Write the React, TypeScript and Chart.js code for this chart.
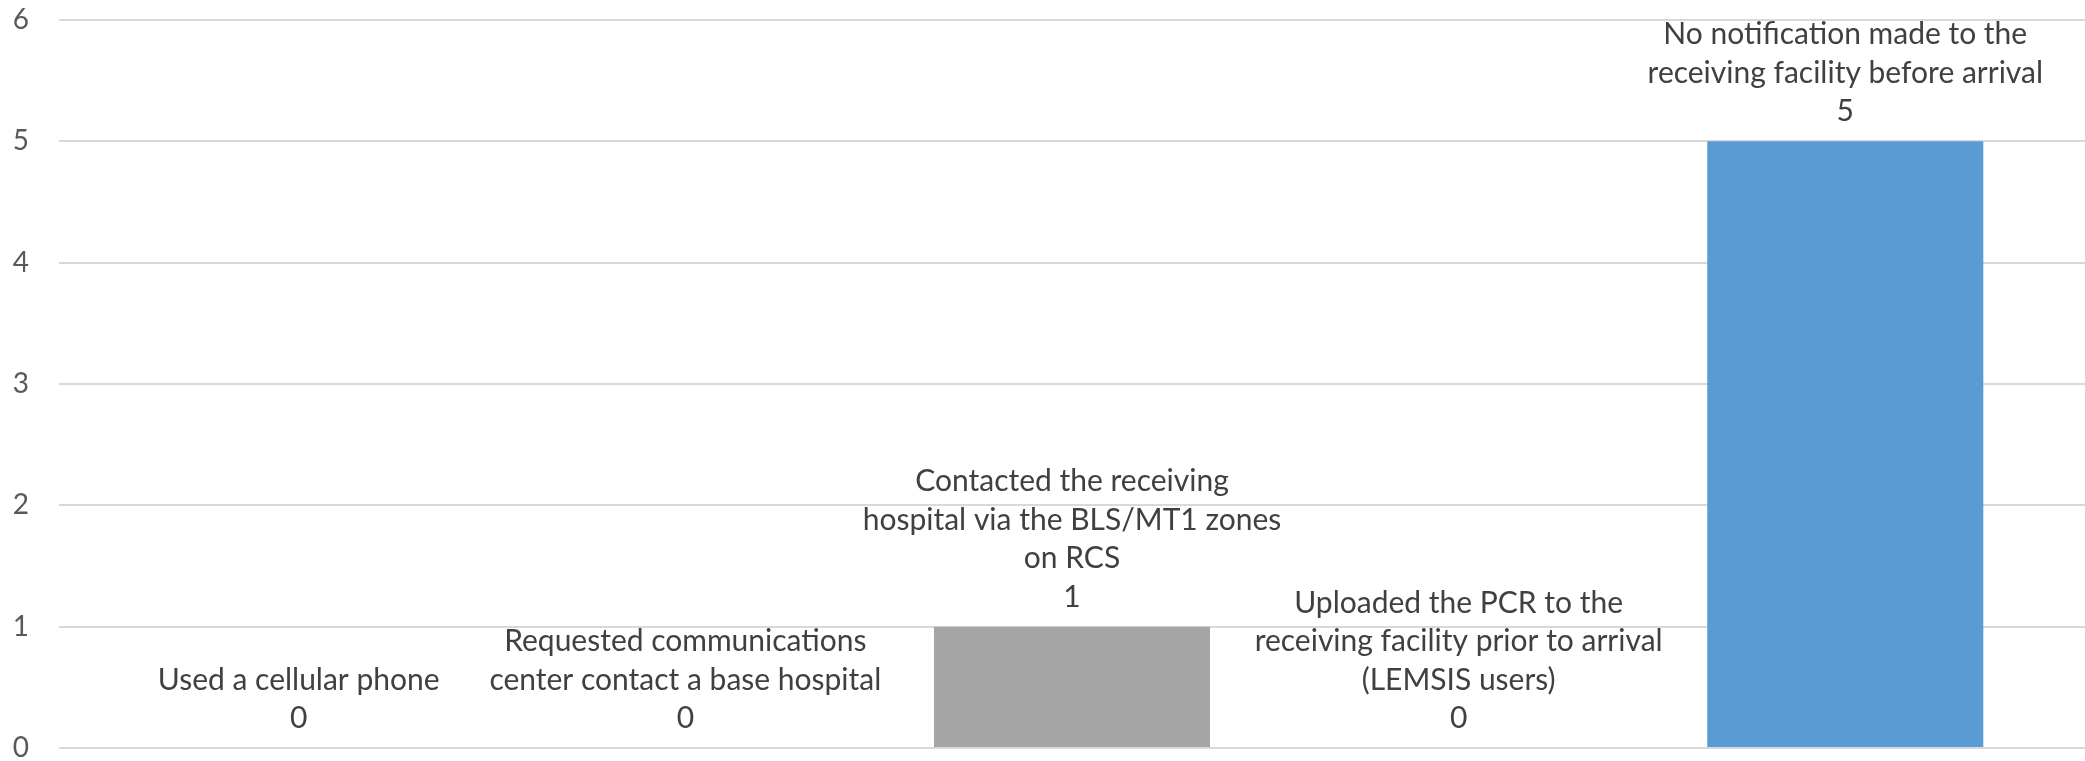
import { useEffect, useRef } from "react";
import { Chart, registerables } from "chart.js";

Chart.register(...registerables);

// ---- data ----
const categories: string[][] = [
  ["Used a cellular phone"],
  ["Requested communications", "center contact a base hospital"],
  ["Contacted the receiving", "hospital via the BLS/MT1 zones", "on RCS"],
  ["Uploaded the PCR to the", "receiving facility prior to arrival", "(LEMSIS users)"],
  ["No notification made to the", "receiving facility before arrival"],
];
const values: number[] = [0, 0, 1, 0, 5];
const barColors: string[] = ["#5b9bd5", "#ed7d31", "#a5a5a5", "#ffc000", "#5b9bd5"];
const yTicks: number[] = [0, 1, 2, 3, 4, 5, 6];

const FONT = "Lato, 'Open Sans', sans-serif";
const LABEL_SIZE = 30;
const LINE_STEP = 38.5;
const LABEL_GAP = 20;

const labelPlugin = {
  id: "barCategoryLabels",
  afterDatasetsDraw(chart: any) {
    const ctx = chart.ctx;
    const meta = chart.getDatasetMeta(0);
    ctx.save();
    ctx.font = `${LABEL_SIZE}px ${FONT}`;
    ctx.fillStyle = "#404040";
    ctx.textAlign = "center";
    ctx.textBaseline = "alphabetic";
    meta.data.forEach((bar: any, i: number) => {
      const lines = [...categories[i], String(values[i])];
      const baseY = bar.y - LABEL_GAP;
      lines.forEach((ln, j) => {
        const y = baseY - (lines.length - 1 - j) * LINE_STEP;
        ctx.fillText(ln, bar.x, y);
      });
    });
    ctx.restore();
  },
};

export default function App() {
  const ref = useRef<HTMLCanvasElement | null>(null);

  useEffect(() => {
    document.body.style.margin = "0";
    if (!ref.current) return;
    const chart = new Chart(ref.current, {
      type: "bar",
      data: {
        datasets: [
          {
            data: values.map((v, i) => ({ x: i, y: v })),
            backgroundColor: barColors,
            borderWidth: 0,
            categoryPercentage: 1,
            barPercentage: 0.714,
          },
        ],
      },
      options: {
        responsive: false,
        animation: false,
        layout: { padding: { top: 20, bottom: 13, left: 0, right: 0 } },
        plugins: {
          legend: { display: false },
          tooltip: { enabled: false },
          title: { display: false },
        },
        scales: {
          x: {
            type: "linear",
            display: false,
            offset: false,
            min: -0.62,
            max: 4.62,
            afterBuildTicks: (s: any) => {
              s.ticks = categories.map((_, i) => ({ value: i }));
            },
          },
          y: {
            min: 0,
            max: 6,
            afterFit: (s: any) => {
              s.width = 59;
              s.paddingTop = 0;
              s.paddingBottom = 0;
            },
            afterBuildTicks: (s: any) => {
              s.ticks = yTicks.map((v) => ({ value: v }));
            },
            border: { display: false },
            grid: { color: "#d9d9d9", lineWidth: 2, drawTicks: false },
            ticks: {
              stepSize: 1,
              padding: 30,
              color: "#595959",
              font: { family: FONT, size: 28, lineHeight: 0.8 },
            },
          },
        },
      },
      plugins: [labelPlugin],
    });
    return () => chart.destroy();
  }, []);

  return (
    <div style={{ width: 2085, height: 761 }}>
      <canvas ref={ref} width={2085} height={761} style={{ display: "block" }} />
    </div>
  );
}
